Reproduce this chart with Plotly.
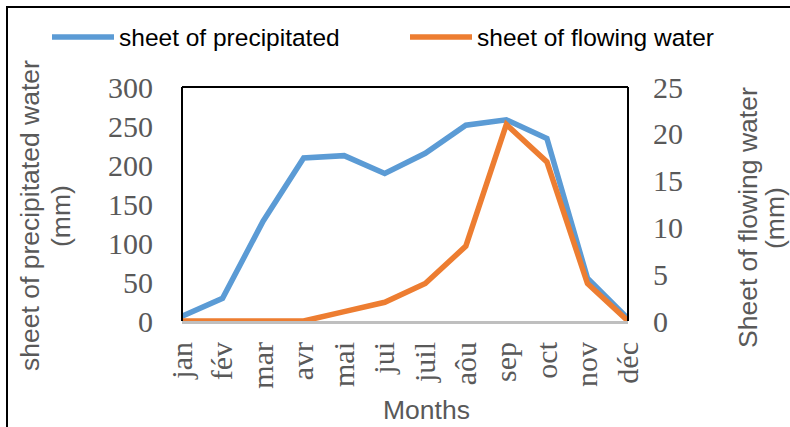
import plotly.graph_objects as go

months = ["jan", "fév", "mar", "avr", "mai", "jui", "juil", "aôu", "sep", "oct", "nov", "déc"]
precipitated = [6, 29, 128, 209, 212, 189, 215, 251, 258, 234, 55, 3]
flowing = [0, 0, 0, 0, 1, 2, 4, 8, 21, 17, 4, 0]

W, H = 790, 427
L, R, T, B = 182, 162, 87, 106
PW = W - L - R
PH = H - T - B


def px(x):
    return (x - L) / PW


def py(y):
    return (H - B - y) / PH


fig = go.Figure()
fig.add_trace(go.Scatter(x=months, y=precipitated, name="sheet of precipitated",
                         mode="lines", line=dict(color="#5B9BD5", width=5.5), legend="legend"))
fig.add_trace(go.Scatter(x=months, y=flowing, name="sheet of flowing water",
                         mode="lines", line=dict(color="#ED7D31", width=5.5), yaxis="y2",
                         legend="legend2"))

tickfont = dict(family="Liberation Serif", size=30, color="#595959")
titlefont = dict(family="Liberation Sans", size=26.5, color="#595959")
legfont = dict(family="Liberation Sans", size=24.5, color="black")


def vtitle(text, x, y):
    return dict(text=text, xref="paper", yref="paper", x=px(x), y=py(y),
                xanchor="center", yanchor="middle", showarrow=False,
                textangle=-90, font=titlefont)


fig.update_layout(
    width=W, height=H, autosize=False,
    margin=dict(l=L, r=R, t=T, b=B, autoexpand=False),
    paper_bgcolor="white", plot_bgcolor="white",
    showlegend=True,
    legend=dict(orientation="h", xref="container", yref="container",
                x=47 / W, y=1 - 37 / H, xanchor="left", yanchor="middle",
                font=legfont, itemwidth=62, bgcolor="rgba(0,0,0,0)"),
    legend2=dict(orientation="h", xref="container", yref="container",
                 x=405 / W, y=1 - 37 / H, xanchor="left", yanchor="middle",
                 font=legfont, itemwidth=62, bgcolor="rgba(0,0,0,0)"),
    xaxis=dict(type="category", showgrid=False, showline=True, linecolor="#bfbfbf",
               linewidth=3, ticks="", tickangle=-90, tickfont=tickfont,
               ticklabelstandoff=6, layer="below traces", zeroline=False,
               automargin=False),
    yaxis=dict(range=[0, 300], dtick=50, showgrid=False, showline=False, zeroline=False,
               ticks="", tickfont=tickfont, ticklabelstandoff=28, automargin=False),
    yaxis2=dict(range=[0, 25], dtick=5, overlaying="y", side="right", showgrid=False,
                showline=False, zeroline=False, ticks="", tickfont=tickfont,
                ticklabelstandoff=24, automargin=False),
    shapes=[
        dict(type="line", xref="paper", yref="paper", x0=0, x1=0, y0=0, y1=1,
             line=dict(color="black", width=2)),
        dict(type="line", xref="paper", yref="paper", x0=0, x1=1, y0=1, y1=1,
             line=dict(color="black", width=2)),
        dict(type="line", xref="paper", yref="paper", x0=1, x1=1, y0=0, y1=1,
             line=dict(color="black", width=2)),
        dict(type="rect", xref="paper", yref="paper", x0=px(7), x1=px(900), y0=py(600), y1=py(7),
             line=dict(color="black", width=2)),
    ],
    annotations=[
        dict(text="Months", xref="paper", yref="paper", x=px(426), y=py(410),
             xanchor="center", yanchor="middle", showarrow=False, font=titlefont),
        vtitle("sheet of precipitated water", 30, 216),
        vtitle("(mm)", 61, 216),
        vtitle("Sheet of flowing water", 748, 218),
        vtitle("(mm)", 775, 218),
    ],
)

fig.write_html("out.html", post_script="document.body.style.margin='0';",
               config={"displayModeBar": False})
